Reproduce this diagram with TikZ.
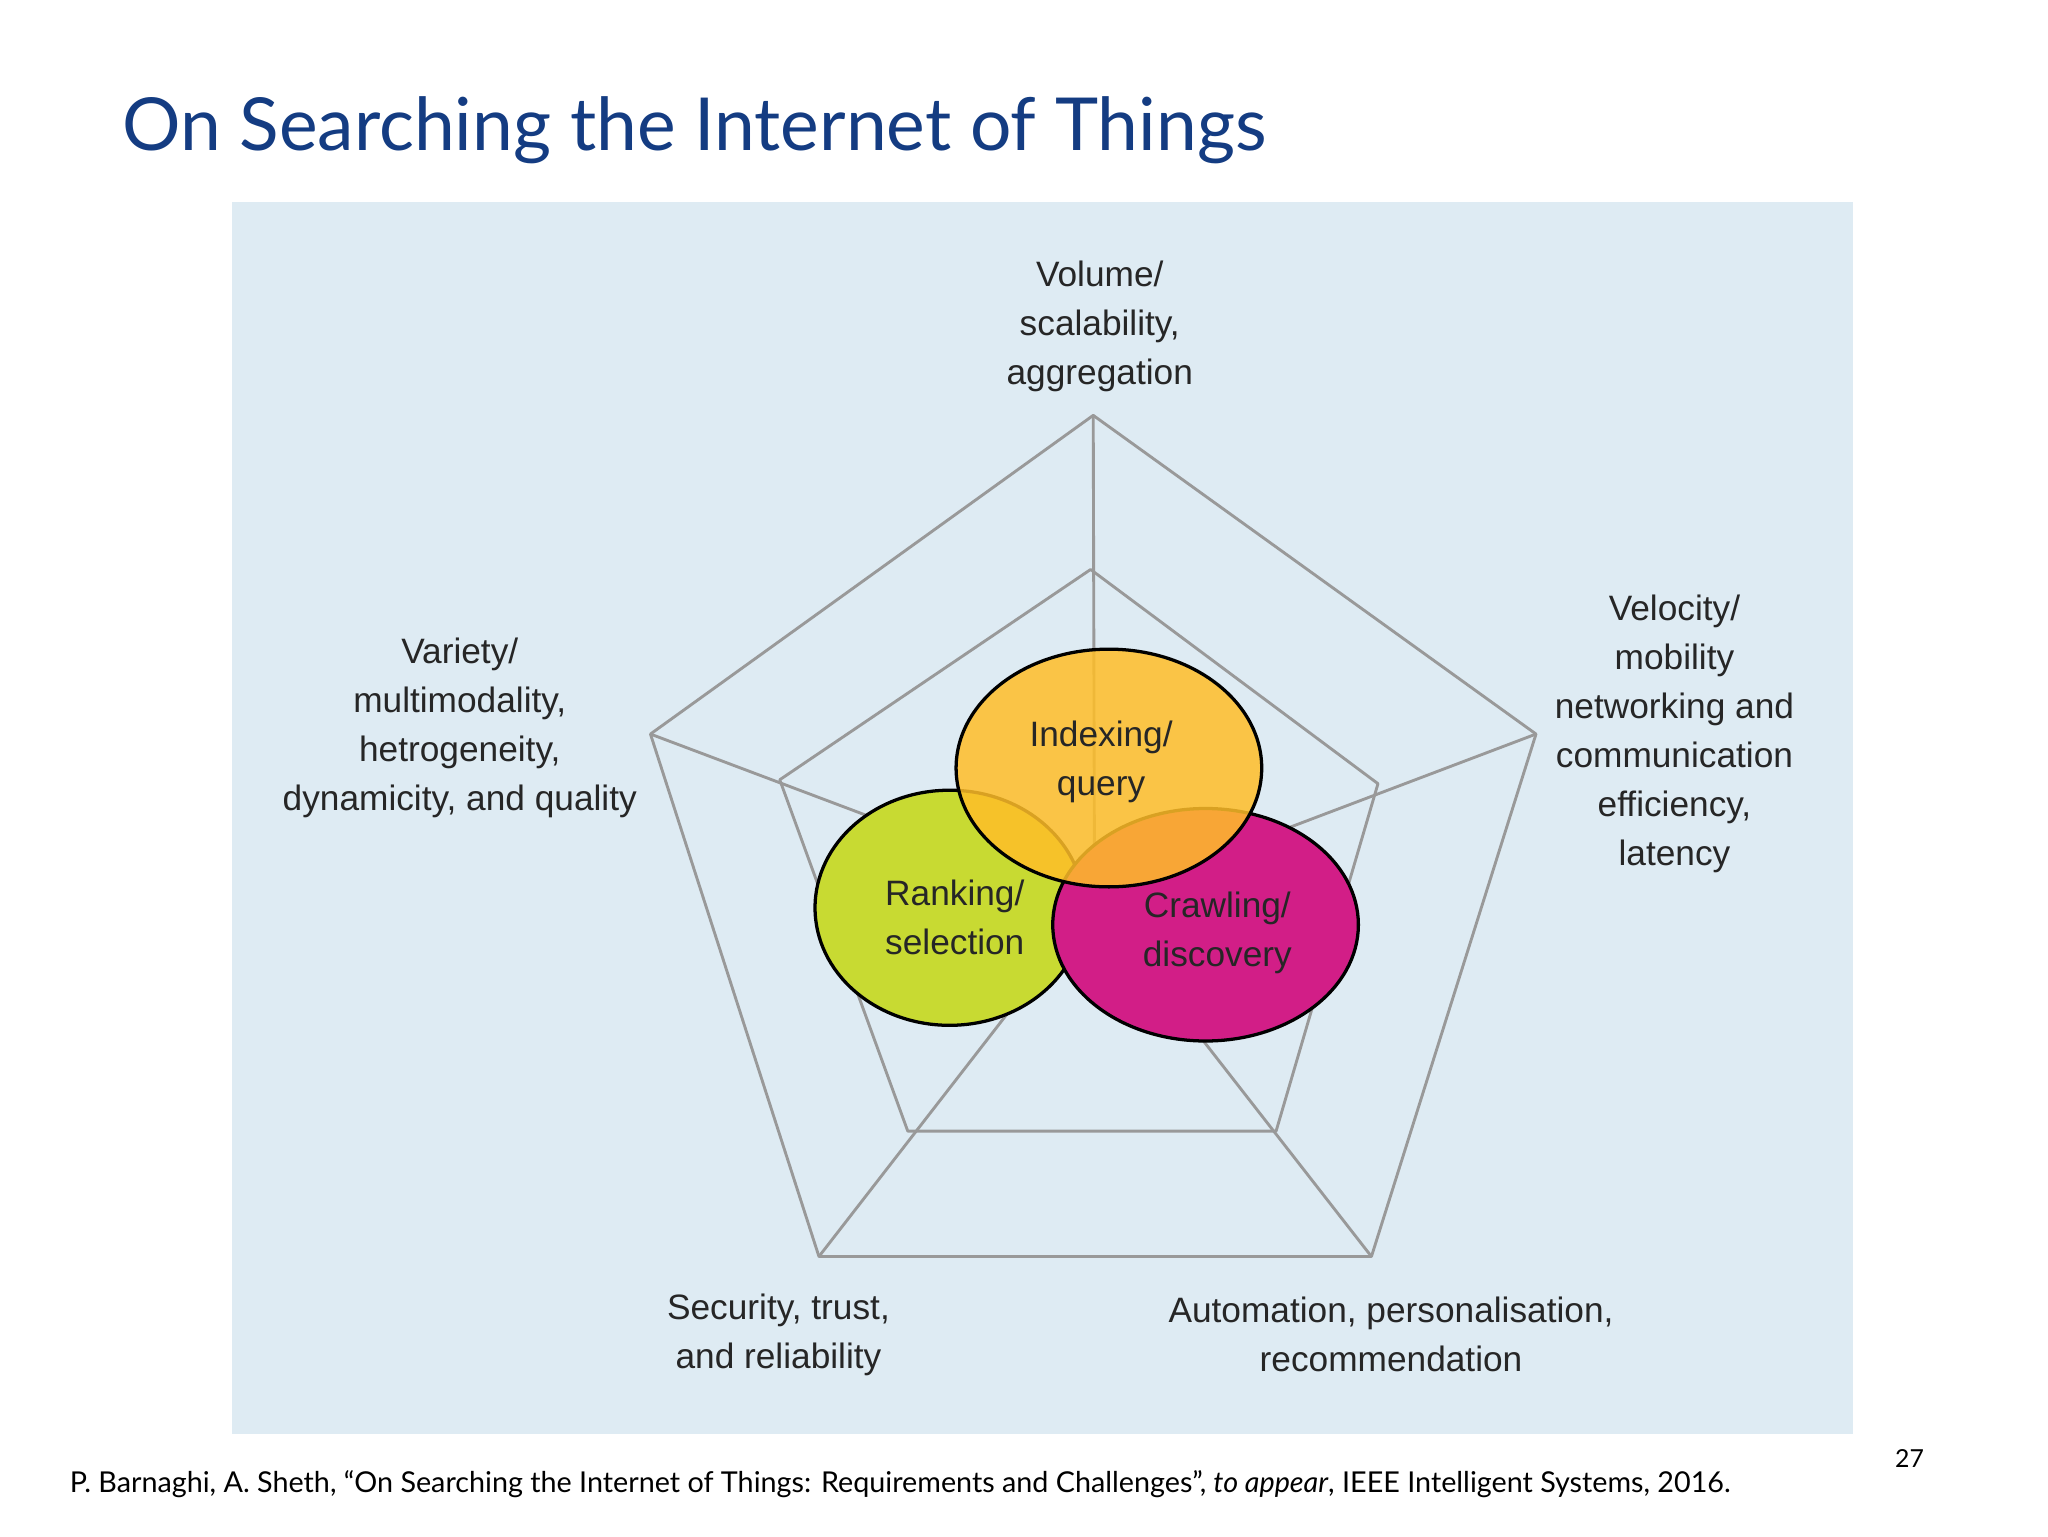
\documentclass[tikz,border=0pt]{standalone}
\usepackage{fontspec}
\setmainfont{Liberation Sans}
\newfontfamily\titlefont{Lato}
\begin{document}
\begin{tikzpicture}[x=1pt,y=-1pt,
  lab/.style={align=center,font=\fontsize{27}{37.5}\selectfont,text=black!85},
  web/.style={draw=gray!80,line width=2.2pt,line join=round},
  circ/.style={draw=black,line width=2.5pt}]
\useasboundingbox[fill=white] (0,0) rectangle (1568,1176);
\fill[fill={rgb,255:red,222;green,235;blue,243}] (178,155) rectangle (1419,1098);
\node[anchor=west,font=\titlefont\fontsize{56}{64}\selectfont,text={rgb,255:red,20;green,60;blue,130}] (title) at (90,100) {On Searching the Internet of Things};
\coordinate (c) at (838,690);
\coordinate (o1) at (837,318); \coordinate (o2) at (1176,562); \coordinate (o3) at (1050,962);
\coordinate (o4) at (627,962); \coordinate (o5) at (498,562);
\coordinate (i1) at (835,436); \coordinate (i2) at (1055,600); \coordinate (i3) at (977,866);
\coordinate (i4) at (695,866); \coordinate (i5) at (597,597);
\draw[web] (o1)--(o2)--(o3)--(o4)--(o5)--cycle;
\draw[web] (i1)--(i2)--(i3)--(i4)--(i5)--cycle;
\foreach \k in {1,...,5} \draw[web] (o\k)--(c);
\filldraw[circ,fill={rgb,255:red,200;green,218;blue,50}] (727,695) ellipse [x radius=103,y radius=90];
\filldraw[circ,fill={rgb,255:red,210;green,30;blue,135}] (923,708) ellipse [x radius=117,y radius=89];
\fill[fill={rgb,255:red,255;green,190;blue,40},opacity=0.85] (849,588) ellipse [x radius=117,y radius=91];
\draw[circ] (849,588) ellipse [x radius=117,y radius=91];
\node[lab] (iq) at (843,583) {Indexing/\\query};
\node[lab] (rs) at (731,702) {Ranking/\\selection};
\node[lab] (cd) at (932,714) {Crawling/\\discovery};
\node[lab] (l1) at (842,250) {Volume/\\scalability,\\aggregation};
\node[lab] (l2) at (1282,562) {Velocity/\\mobility\\networking and\\communication\\efficiency,\\latency};
\node[lab] (l3) at (1065,1022) {Automation, personalisation,\\recommendation};
\node[lab] (l4) at (596,1022) {Security, trust,\\and reliability};
\node[lab] (l5) at (352,557) {Variety/\\multimodality,\\hetrogeneity,\\dynamicity, and quality};
\node[anchor=west,font=\titlefont\fontsize{22}{26}\selectfont] (ref) at (50,1136) {P. Barnaghi, A. Sheth, “On Searching the Internet of Things: Requirements and Challenges”, \textit{to appear}, IEEE Intelligent Systems, 2016.};
\node[font=\titlefont\fontsize{19}{22}\selectfont] (pg) at (1462,1117) {27};
\end{tikzpicture}
\end{document}
